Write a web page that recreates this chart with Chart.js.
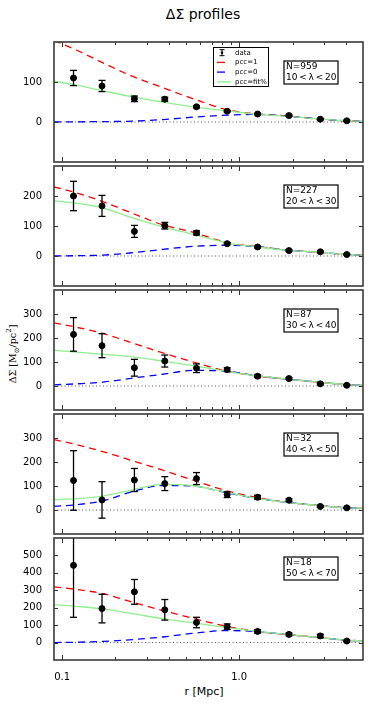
<!DOCTYPE html>
<html>
<head>
<meta charset="utf-8">
<script src="https://cdn.jsdelivr.net/npm/chart.js@4.4.1/dist/chart.umd.min.js"></script>
<style>
body{margin:0;background:#fff;width:372px;height:707px;position:relative;overflow:hidden;font-family:'DejaVu Sans',sans-serif;color:#000}
canvas{position:absolute;left:0}
#title{position:absolute;left:203px;top:6px;transform:translateX(-50%);font-size:14px;white-space:nowrap}
#xlab{position:absolute;left:204px;top:685px;transform:translateX(-50%);font-size:11px;white-space:nowrap}
#ylab{position:absolute;left:13px;top:354px;transform:translate(-50%,-50%) rotate(-90deg);font-family:'DejaVu Serif',serif;font-size:9.5px;white-space:nowrap}
#ylab sub,#ylab sup{font-size:7px}
</style>
</head>
<body>
<div id="title">ΔΣ profiles</div>
<div id="ylab">ΔΣ [M<sub>⊙</sub>/pc<sup>2</sup>]</div>
<div id="xlab">r [Mpc]</div>
<script>
// radial bins of the measurement and of the model curves
var rData = [0.116, 0.168, 0.256, 0.380, 0.574, 0.855, 1.27, 1.91, 2.87, 4.05];
var rModel = [0.09, 0.12, 0.17, 0.25, 0.37, 0.55, 0.85, 1.27, 1.9, 2.9, 4.0, 5.0];

var nClusters = [959, 227, 87, 32, 18];
var lambdaLo = [10, 20, 30, 40, 50];
var lambdaHi = [20, 30, 40, 50, 70];
var yTop = [200, 300, 400, 400, 600];

// measured profile and errors, one row per richness bin
var obs = [
  [110, 90, 58, 57, 38, 27, 20, 16, 7, 3],
  [200, 167, 82, 101, 77, 41, 30, 18, 14, 5],
  [215, 168, 76, 104, 74, 68, 41, 31, 9, 3],
  [123, 42, 125, 110, 131, 64, 53, 41, 15, 9],
  [443, 195, 291, 188, 115, 91, 64, 47, 38, 9]
];
var obsErr = [
  [19, 14, 7, 5, 3, 2, 2, 2, 2, 2],
  [49, 35, 20, 11, 7, 4, 3, 3, 3, 2],
  [70, 50, 35, 25, 18, 8, 6, 4, 4, 3],
  [124, 76, 48, 29, 25, 12, 8, 6, 4, 3],
  [298, 82, 71, 59, 30, 16, 10, 8, 10, 5]
];

// model curves at rModel
var pcc1 = [
  [204, 180, 148, 114, 86, 58, 31, 20, 15, 7, 3, 2],
  [230, 211, 181, 142, 104, 79, 45, 31, 20, 12, 5, 3],
  [263, 245, 219, 179, 138, 100, 62, 41, 28, 15, 6, 3],
  [293, 273, 243, 205, 166, 124, 80, 52, 31, 18, 9, 7],
  [320, 305, 281, 232, 184, 139, 93, 64, 45, 28, 14, 10]
];
var pcc0 = [
  [0, 0.5, 1, 2, 6, 12, 17, 19, 14, 7, 3, 2],
  [0, 1, 3, 11, 22, 32, 36, 31, 19, 12, 5, 3],
  [5, 9, 16, 33, 49, 65, 62, 42, 28, 15, 6, 3],
  [15, 22, 38, 77, 102, 100, 72, 48, 31, 18, 9, 7],
  [0, 2, 7, 17, 32, 53, 69, 63, 45, 28, 14, 10]
];
var pccFit = [
  [102, 92, 78, 63, 50, 38, 28, 19, 14, 7, 3, 2],
  [184, 176, 160, 127, 97, 72, 44, 30, 19, 12, 5, 3],
  [149, 141, 132, 121, 104, 85, 61, 42, 28, 15, 6, 3],
  [43, 47, 58, 84, 107, 101, 73, 48, 31, 18, 9, 7],
  [218, 208, 193, 166, 137, 113, 86, 64, 45, 28, 14, 10]
];

var FONT = "'DejaVu Sans', sans-serif";

function pts(xs, ys) {
  return xs.map(function (x, i) { return {x: x, y: ys[i]}; });
}

function line(ctx, x1, y1, x2, y2) {
  ctx.beginPath(); ctx.moveTo(x1, y1); ctx.lineTo(x2, y2); ctx.stroke();
}

var framePlugin = {
  id: 'frame',
  afterDatasetsDraw: function (chart, args, opts) {
    var p = opts.panel, ctx = chart.ctx, a = chart.chartArea;
    var xs = chart.scales.x, ys = chart.scales.y;
    ctx.save();
    ctx.beginPath();
    ctx.rect(a.left, a.top, a.right - a.left, a.bottom - a.top);
    ctx.clip();
    ctx.strokeStyle = '#000';
    ctx.lineWidth = 1.3;
    rData.forEach(function (r, i) {
      var x = xs.getPixelForValue(r);
      var lo = ys.getPixelForValue(obs[p][i] - obsErr[p][i]);
      var hi = ys.getPixelForValue(obs[p][i] + obsErr[p][i]);
      line(ctx, x, lo, x, hi);
      line(ctx, x - 3.5, lo, x + 3.5, lo);
      line(ctx, x - 3.5, hi, x + 3.5, hi);
    });
    ctx.restore();
  },
  afterDraw: function (chart, args, opts) {
    var p = opts.panel, ctx = chart.ctx, a = chart.chartArea;
    var xs = chart.scales.x, ys = chart.scales.y;
    ctx.save();
    ctx.strokeStyle = '#333';
    ctx.lineWidth = 1;
    // y ticks, inside on both sides
    for (var v = 0; v < yTop[p]; v += 100) {
      var y = Math.round(ys.getPixelForValue(v)) + 0.5;
      line(ctx, a.left, y, a.left + 4, y);
      line(ctx, a.right - 4, y, a.right, y);
    }
    // x ticks, major and minor, top and bottom
    [0.1, 1].forEach(function (dec) {
      for (var m = 1; m < 10; m++) {
        var val = m * dec;
        if (val <= xs.min || val >= xs.max) continue;
        var x = Math.round(xs.getPixelForValue(val)) + 0.5;
        var len = m == 1 ? 5 : 3;
        line(ctx, x, a.top, x, a.top + len);
        line(ctx, x, a.bottom - len, x, a.bottom);
      }
    });
    ctx.lineWidth = 1.6;
    ctx.strokeStyle = '#3a3a3a';
    ctx.strokeRect(a.left, a.top, a.right - a.left, a.bottom - a.top);

    // N / lambda box
    var bx = 284, by = a.top + 19;
    ctx.fillStyle = '#fff';
    ctx.fillRect(bx, by, 54, 23);
    ctx.lineWidth = 1.2;
    ctx.strokeStyle = '#000';
    ctx.strokeRect(bx, by, 54, 23);
    ctx.fillStyle = '#000';
    ctx.font = '9px ' + FONT;
    ctx.textBaseline = 'middle';
    ctx.fillText('N=' + nClusters[p], bx + 2, by + 5.5);
    ctx.fillText(lambdaLo[p] + '\u2009<\u2009λ\u2009<\u2009' + lambdaHi[p], bx + 2, by + 17);

    if (p == 0) {
      var lx = 213, ly = a.top + 5;
      ctx.fillStyle = '#fff';
      ctx.fillRect(lx, ly, 55, 39);
      ctx.lineWidth = 1;
      ctx.strokeStyle = '#000';
      ctx.strokeRect(lx + 0.5, ly + 0.5, 55, 39);
      var ds = chart.data.datasets;
      var items = [ds[0], ds[3], ds[2], ds[1]];
      ctx.font = '7px ' + FONT;
      items.forEach(function (d, k) {
        var yy = ly + 5.7 + k * 9.7;
        if (k == 0) {
          ctx.lineWidth = 1;
          line(ctx, 222, yy - 3, 222, yy + 3);
          line(ctx, 219.5, yy - 3, 224.5, yy - 3);
          line(ctx, 219.5, yy + 3, 224.5, yy + 3);
          ctx.beginPath(); ctx.arc(222, yy, 1.3, 0, 2 * Math.PI); ctx.fillStyle = '#000'; ctx.fill();
        } else {
          ctx.strokeStyle = d.borderColor;
          ctx.lineWidth = 1.3;
          line(ctx, 217, yy, k == 3 ? 231 : 225, yy);
          ctx.strokeStyle = '#000';
        }
        ctx.fillStyle = '#000';
        ctx.fillText(d.label, 235, yy);
      });
    }
    ctx.restore();
  }
};

function makePanel(p) {
  var last = p == 4;
  var h = last ? 156 : 140;
  var cv = document.createElement('canvas');
  cv.width = 372; cv.height = h;
  cv.style.width = '372px'; cv.style.height = h + 'px';
  cv.style.top = (32 + 124 * p) + 'px';
  document.body.appendChild(cv);

  new Chart(cv, {
    type: 'line',
    data: {
      datasets: [
        {label: 'data', data: pts(rData, obs[p]), showLine: false, pointRadius: 3,
         pointBackgroundColor: '#000', pointBorderColor: '#000', borderColor: '#000'},
        {label: 'pcc=fit%', data: pts(rModel, pccFit[p]), borderColor: '#90ee90', borderWidth: 1.3,
         pointRadius: 0, cubicInterpolationMode: 'monotone'},
        {label: 'pcc=0', data: pts(rModel, pcc0[p]), borderColor: '#0000ff', borderWidth: 1.3,
         borderDash: [7, 5], pointRadius: 0, cubicInterpolationMode: 'monotone'},
        {label: 'pcc=1', data: pts(rModel, pcc1[p]), borderColor: '#ff0000', borderWidth: 1.3,
         borderDash: [7, 5], pointRadius: 0, cubicInterpolationMode: 'monotone'},
        {label: 'zero', data: pts([0.09, 5], [0, 0]), borderColor: '#555', borderWidth: 1,
         borderDash: [1, 2.5], pointRadius: 0}
      ]
    },
    options: {
      responsive: false,
      animation: false,
      devicePixelRatio: 1,
      layout: {padding: {top: 8, bottom: last ? 2 : 8, left: 0, right: 9}},
      plugins: {legend: {display: false}, tooltip: {enabled: false}, frame: {panel: p}},
      scales: {
        x: {
          type: 'logarithmic', min: 0.09, max: 5, display: last,
          grid: {display: false}, border: {display: false},
          afterFit: function (s) { s.height = last ? 22 : 0; },
          ticks: {
            autoSkip: false, maxRotation: 0, padding: 3, color: '#000',
            font: {size: 10, family: FONT},
            callback: function (v) {
              if (Math.abs(v - 0.1) < 1e-9) return '0.1';
              if (Math.abs(v - 1) < 1e-9) return '1.0';
              return '';
            }
          }
        },
        y: {
          min: -100, max: yTop[p],
          grid: {display: false}, border: {display: false},
          afterFit: function (s) { s.width = 54; },
          ticks: {
            stepSize: 100, padding: 4, color: '#000',
            font: {size: 10, family: FONT},
            callback: function (v) { return (v >= 0 && v < yTop[p]) ? v : ''; }
          }
        }
      }
    },
    plugins: [framePlugin]
  });
}

for (var p = 0; p < 5; p++) makePanel(p);
</script>
</body>
</html>
